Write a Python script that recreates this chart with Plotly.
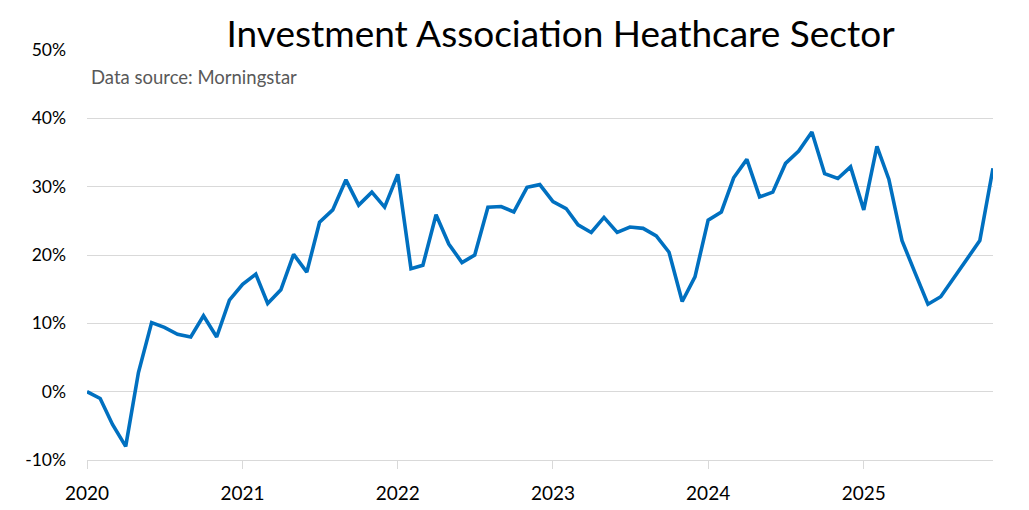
import plotly.graph_objects as go
import pandas as pd

months = pd.date_range("2020-01-01", "2025-11-01", freq="MS")
returns_pct = [
    0.0, -1.0, -4.8, -8.0, 2.8, 10.1, 9.4, 8.4, 8.0, 11.1, 8.0, 13.4,
    15.7, 17.2, 12.9, 14.9, 20.1, 17.5, 24.8, 26.6, 31.0, 27.3, 29.2, 27.0,
    31.8, 18.0, 18.5, 25.9, 21.6, 18.9, 20.0, 27.0, 27.1, 26.3, 29.9, 30.3,
    27.8, 26.8, 24.4, 23.3, 25.5, 23.3, 24.1, 23.9, 22.8, 20.4, 13.2, 16.8,
    25.1, 26.3, 31.3, 34.0, 28.5, 29.2, 33.4, 35.2, 38.0, 31.9, 31.2, 32.9,
    26.6, 35.9, 31.1, 22.1, 17.5, 12.8, 13.9, 16.7, 19.3, 22.1, 32.7,
]
year_ticks = ["2020-01-01", "2021-01-01", "2022-01-01", "2023-01-01", "2024-01-01", "2025-01-01"]
year_labels = ["2020", "2021", "2022", "2023", "2024", "2025"]
y_ticks = [-10, 0, 10, 20, 30, 40, 50]
y_labels = ["-10%", "0%", "10%", "20%", "30%", "40%", "50%"]

FONT = "Lato, Open Sans, sans-serif"

fig = go.Figure()
fig.add_trace(go.Scatter(
    x=months, y=returns_pct, mode="lines",
    line=dict(color="#0070C0", width=3.6),
    hoverinfo="skip", showlegend=False,
))

# page body adds an 8px offset; margins compensate so the plot spans x 87..993, y 50..460
fig.update_layout(
    width=1029, height=510,
    margin=dict(l=79, r=44, t=42, b=58),
    paper_bgcolor="white", plot_bgcolor="white",
    font=dict(family=FONT, color="#000000", size=18),
    title=dict(
        text="Investment Association Heathcare Sector",
        font=dict(family=FONT, size=37, color="#000000"),
        x=0.537, xanchor="center", y=0.975, yanchor="top",
    ),
)
fig.add_annotation(
    text="Data source: Morningstar",
    xref="paper", yref="paper", x=0.002, y=0.934,
    xanchor="left", yanchor="middle", showarrow=False,
    font=dict(family=FONT, size=18.5, color="#595959"),
)

fig.update_xaxes(
    type="date",
    range=["2020-01-01", "2025-11-01"],
    tickvals=year_ticks, ticktext=year_labels,
    showgrid=False, showline=True, linecolor="#d9d9d9", linewidth=1.3,
    ticks="outside", ticklen=8, tickcolor="#d9d9d9",
    tickfont=dict(family=FONT, size=19, color="#000000"),
    ticklabelstandoff=8,
    zeroline=False, automargin=False,
)
fig.update_yaxes(
    range=[-10, 50], tickvals=y_ticks, ticktext=y_labels,
    showgrid=True, gridcolor="#d9d9d9", gridwidth=1.3,
    showline=False, zeroline=False, ticks="",
    tickfont=dict(family=FONT, size=17.5, color="#000000"),
    ticklabelstandoff=20, automargin=False,
)

fig.write_html("out.html")
